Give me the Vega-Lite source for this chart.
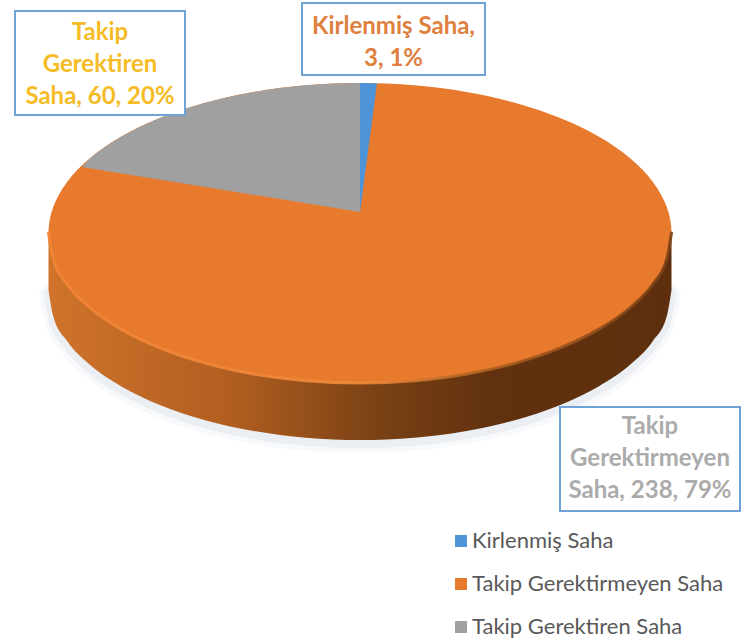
{"$schema":"https://vega.github.io/schema/vega-lite/v6.json","width":753,"height":642,"padding":0,"autosize":"none","background":"white","config":{"view":{"stroke":null}},
"datasets":{
"slices":[{"name":"Kirlenmiş Saha","value":3,"label":"Kirlenmiş Saha,\n3, 1%"},{"name":"Takip Gerektirmeyen Saha","value":238,"label":"Takip\nGerektirmeyen\nSaha, 238, 79%"},{"name":"Takip Gerektiren Saha","value":60,"label":"Takip\nGerektiren\nSaha, 60, 20%"}],
"wall":[{"x":48.5,"y":290},{"x":53.2,"y":316},{"x":67.3,"y":341.3},{"x":90.2,"y":365},{"x":121.4,"y":386.4},{"x":159.8,"y":404.9},{"x":204.2,"y":419.9},{"x":253.5,"y":431},{"x":305.9,"y":437.7},{"x":360,"y":440},{"x":414.1,"y":437.7},{"x":466.5,"y":431},{"x":515.8,"y":419.9},{"x":560.2,"y":404.9},{"x":598.6,"y":386.4},{"x":629.8,"y":365},{"x":652.7,"y":341.3},{"x":666.8,"y":316},{"x":671.5,"y":290}],
"disc":[{"i":0,"x":671.5,"y":233},{"i":1,"x":666.8,"y":207},{"i":2,"x":652.7,"y":181.7},{"i":3,"x":629.8,"y":158},{"i":4,"x":598.6,"y":136.6},{"i":5,"x":560.2,"y":118.1},{"i":6,"x":515.8,"y":103.1},{"i":7,"x":466.5,"y":92},{"i":8,"x":414.1,"y":85.3},{"i":9,"x":360,"y":83},{"i":10,"x":305.9,"y":85.3},{"i":11,"x":253.5,"y":92},{"i":12,"x":204.2,"y":103.1},{"i":13,"x":159.8,"y":118.1},{"i":14,"x":121.4,"y":136.6},{"i":15,"x":90.2,"y":158},{"i":16,"x":67.3,"y":181.7},{"i":17,"x":53.2,"y":207},{"i":18,"x":48.5,"y":233},{"i":19,"x":53.2,"y":259},{"i":20,"x":67.3,"y":284.3},{"i":21,"x":90.2,"y":308},{"i":22,"x":121.4,"y":329.4},{"i":23,"x":159.8,"y":347.9},{"i":24,"x":204.2,"y":362.9},{"i":25,"x":253.5,"y":374},{"i":26,"x":305.9,"y":380.7},{"i":27,"x":360,"y":383},{"i":28,"x":414.1,"y":380.7},{"i":29,"x":466.5,"y":374},{"i":30,"x":515.8,"y":362.9},{"i":31,"x":560.2,"y":347.9},{"i":32,"x":598.6,"y":329.4},{"i":33,"x":629.8,"y":308},{"i":34,"x":652.7,"y":284.3},{"i":35,"x":666.8,"y":259}],
"wedges":[{"slice":"Takip Gerektiren Saha","i":0,"x":360,"y":212},{"slice":"Takip Gerektiren Saha","i":1,"x":360,"y":83},{"slice":"Takip Gerektiren Saha","i":2,"x":332.9,"y":83.6},{"slice":"Takip Gerektiren Saha","i":3,"x":305.9,"y":85.3},{"slice":"Takip Gerektiren Saha","i":4,"x":279.3,"y":88.1},{"slice":"Takip Gerektiren Saha","i":5,"x":253.5,"y":92},{"slice":"Takip Gerektiren Saha","i":6,"x":228.3,"y":97.1},{"slice":"Takip Gerektiren Saha","i":7,"x":204.2,"y":103.1},{"slice":"Takip Gerektiren Saha","i":8,"x":181.2,"y":110.1},{"slice":"Takip Gerektiren Saha","i":9,"x":159.8,"y":118.1},{"slice":"Takip Gerektiren Saha","i":10,"x":139.8,"y":126.9},{"slice":"Takip Gerektiren Saha","i":11,"x":121.4,"y":136.6},{"slice":"Takip Gerektiren Saha","i":12,"x":104.9,"y":146.9},{"slice":"Takip Gerektiren Saha","i":13,"x":90.2,"y":158},{"slice":"Takip Gerektiren Saha","i":14,"x":82,"y":167},{"slice":"Kirlenmiş Saha","i":0,"x":360,"y":212},{"slice":"Kirlenmiş Saha","i":1,"x":360,"y":83},{"slice":"Kirlenmiş Saha","i":2,"x":377,"y":83.3}]},
"resolve":{"scale":{"x":"independent","y":"independent"}},
"layer":[
{"data":{"name":"wall"},"mark":{"type":"line","interpolate":"monotone","stroke":"#9FB0C0","strokeWidth":18,"opacity":0.07,"yOffset":4,"strokeCap":"round"},"encoding":{"x":{"field":"x","type":"quantitative","scale":{"domain":[0,753],"range":[0,753]},"axis":null},"y":{"field":"y","type":"quantitative","scale":{"domain":[0,642],"range":[0,642]},"axis":null}}},
{"data":{"name":"wall"},"mark":{"type":"line","interpolate":"monotone","stroke":"#9FB0C0","strokeWidth":10,"opacity":0.14,"yOffset":3,"strokeCap":"round"},"encoding":{"x":{"field":"x","type":"quantitative","scale":{"domain":[0,753],"range":[0,753]},"axis":null},"y":{"field":"y","type":"quantitative","scale":{"domain":[0,642],"range":[0,642]},"axis":null}}},
{"data":{"name":"wall"},"mark":{"type":"area","interpolate":"monotone","fill":{"gradient":"linear","x1":0,"y1":0,"x2":1,"y2":0,"stops":[{"offset":0,"color":"#D0732B"},{"offset":0.3,"color":"#B05E20"},{"offset":0.52,"color":"#7C4215"},{"offset":0.7,"color":"#62320F"},{"offset":1,"color":"#5E2F0E"}]}},"encoding":{"x":{"field":"x","type":"quantitative","scale":{"domain":[0,753],"range":[0,753]},"axis":null},"y":{"field":"y","type":"quantitative","scale":{"domain":[0,642],"range":[0,642]},"axis":null},"y2":{"datum":236}}},
{"data":{"name":"disc"},"transform":[{"calculate":"'Takip Gerektirmeyen Saha'","as":"slice"}],"mark":{"type":"line","interpolate":"cardinal-closed","stroke":"transparent","strokeWidth":0},"encoding":{"x":{"field":"x","type":"quantitative","scale":{"domain":[0,753],"range":[0,753]},"axis":null},"y":{"field":"y","type":"quantitative","scale":{"domain":[0,642],"range":[0,642]},"axis":null},"order":{"field":"i","type":"quantitative"},"fill":{"field":"slice","type":"nominal","scale":{"domain":["Kirlenmiş Saha","Takip Gerektirmeyen Saha","Takip Gerektiren Saha"],"range":["#4F94D8","#E87A2E","#A0A0A0"]},"legend":{"title":null,"orient":"none","legendX":450,"legendY":530,"symbolType":"square","symbolSize":144,"symbolStrokeWidth":0,"labelFont":"Lato","labelFontSize":22,"labelColor":"#595959","labelOffset":0,"rowPadding":21,"labelLimit":320}}}},
{"data":{"name":"wall"},"mark":{"type":"line","interpolate":"monotone","yOffset":-57,"strokeWidth":3,"opacity":0.9,"strokeCap":"round","stroke":{"gradient":"linear","x1":0,"y1":0,"x2":1,"y2":0,"stops":[{"offset":0,"color":"#F28436"},{"offset":0.5,"color":"#F08A3C"},{"offset":0.7,"color":"#B0611F"},{"offset":1,"color":"#7A4115"}]}},"encoding":{"x":{"field":"x","type":"quantitative","scale":{"domain":[0,753],"range":[0,753]},"axis":null},"y":{"field":"y","type":"quantitative","scale":{"domain":[0,642],"range":[0,642]},"axis":null}}},
{"data":{"name":"wedges"},"mark":{"type":"line","stroke":"transparent","strokeWidth":0},"encoding":{"x":{"field":"x","type":"quantitative","scale":{"domain":[0,753],"range":[0,753]},"axis":null},"y":{"field":"y","type":"quantitative","scale":{"domain":[0,642],"range":[0,642]},"axis":null},"order":{"field":"i","type":"quantitative"},"fill":{"field":"slice","type":"nominal","legend":null}}},
{"data":{"name":"slices"},"transform":[{"filter":"datum.value==3"}],"mark":{"type":"rect","width":183,"height":72,"fill":"white","stroke":"#6FA3D8","strokeWidth":2},"encoding":{"x":{"field":"value","type":"quantitative","scale":{"domain":[3,60,238],"range":[393.5,100,650]},"axis":null},"y":{"field":"value","type":"quantitative","scale":{"domain":[3,60,238],"range":[39,63,459]},"axis":null}}},
{"data":{"name":"slices"},"transform":[{"filter":"datum.value==60"}],"mark":{"type":"rect","width":170,"height":104,"fill":"white","stroke":"#6FA3D8","strokeWidth":2},"encoding":{"x":{"field":"value","type":"quantitative","scale":{"domain":[3,60,238],"range":[393.5,100,650]},"axis":null},"y":{"field":"value","type":"quantitative","scale":{"domain":[3,60,238],"range":[39,63,459]},"axis":null}}},
{"data":{"name":"slices"},"transform":[{"filter":"datum.value==238"}],"mark":{"type":"rect","width":180,"height":104,"fill":"white","stroke":"#6FA3D8","strokeWidth":2},"encoding":{"x":{"field":"value","type":"quantitative","scale":{"domain":[3,60,238],"range":[393.5,100,650]},"axis":null},"y":{"field":"value","type":"quantitative","scale":{"domain":[3,60,238],"range":[39,63,459]},"axis":null}}},
{"data":{"name":"slices"},"mark":{"type":"text","font":"Lato","fontWeight":"bold","fontSize":24,"lineBreak":"\n","lineHeight":32,"align":"center","baseline":"middle"},"encoding":{"x":{"field":"value","type":"quantitative","scale":{"domain":[3,60,238],"range":[393.5,100,650]},"axis":null},"y":{"field":"value","type":"quantitative","scale":{"domain":[3,60,238],"range":[27,33,427]},"axis":null},"text":{"field":"label"},"color":{"field":"name","type":"nominal","scale":{"domain":["Kirlenmiş Saha","Takip Gerektirmeyen Saha","Takip Gerektiren Saha"],"range":["#E0803F","#ABABAB","#F5BC25"]},"legend":null}}}
]}
